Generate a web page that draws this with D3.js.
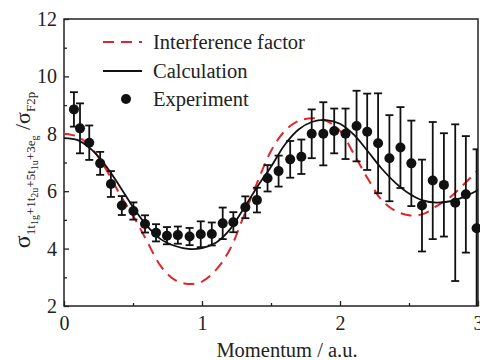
<!DOCTYPE html>
<html>
<head>
<meta charset="utf-8">
<script src="https://cdn.jsdelivr.net/npm/d3@7"></script>
<style>
  body { margin: 0; background: #fff; }
  svg text { font-family: "Liberation Serif", "DejaVu Serif", serif !important; fill: #222; }
</style>
</head>
<body>
<svg id="chart" width="480" height="360" font-family="Liberation Serif, serif"></svg>
<script>
// experiment points
var expX = [0.072, 0.116, 0.183, 0.262, 0.34, 0.419, 0.503, 0.587, 0.667, 0.746, 0.825, 0.91, 0.991,
            1.071, 1.15, 1.227, 1.314, 1.398, 1.475, 1.555, 1.639, 1.72, 1.795, 1.879, 1.958, 2.04,
            2.12, 2.197, 2.276, 2.358, 2.438, 2.517, 2.594, 2.672, 2.753, 2.835, 2.912, 2.99];
var expY = [8.85, 8.19, 7.69, 6.97, 6.25, 5.5, 5.31, 4.86, 4.55, 4.45, 4.47, 4.42, 4.5,
            4.51, 4.88, 4.92, 5.44, 5.69, 6.45, 6.7, 7.11, 7.2, 8.0, 8.0, 8.1, 8.0,
            8.27, 8.07, 7.67, 7.15, 7.52, 6.97, 5.5, 6.37, 6.22, 5.6, 5.89, 4.71];
var expErr = [0.6, 0.87, 0.6, 0.4, 0.45, 0.33, 0.3, 0.3, 0.3, 0.3, 0.3, 0.3, 0.45,
              0.4, 0.55, 0.35, 0.38, 0.43, 0.46, 0.54, 0.64, 0.6, 0.85, 1.1, 0.78, 0.88,
              1.23, 1.33, 1.74, 1.5, 1.41, 1.49, 1.6, 2.04, 1.8, 2.73, 2.03, 2.75];

// curves, read every 0.1 a.u.
var curveX = [0, 0.1, 0.2, 0.3, 0.4, 0.5, 0.6, 0.7, 0.8, 0.9, 1.0, 1.1, 1.2, 1.3, 1.4, 1.5,
              1.6, 1.7, 1.8, 1.9, 2.0, 2.1, 2.2, 2.3, 2.4, 2.5, 2.6, 2.7, 2.8, 2.9, 3.0];
var interfY = [8.0, 7.9, 7.5, 6.8, 5.93, 5.15, 4.27, 3.4, 2.92, 2.77, 2.85, 3.25, 3.95, 5.1, 6.3, 7.4,
               8.1, 8.45, 8.54, 8.45, 8.1, 7.3, 6.45, 5.7, 5.32, 5.16, 5.2, 5.48, 5.8, 6.25, 6.74];
var calcY = [7.85, 7.78, 7.45, 6.9, 6.2, 5.45, 4.8, 4.33, 4.1, 3.99, 4.02, 4.2, 4.65, 5.38, 6.15, 6.85,
             7.62, 8.15, 8.42, 8.48, 8.35, 7.97, 7.4, 6.8, 6.3, 5.92, 5.68, 5.6, 5.65, 5.8, 6.04];

var xTicks = [0, 1, 2, 3], xMinor = [0.5, 1.5, 2.5];
var yTicks = [2, 4, 6, 8, 10, 12], yMinor = [3, 5, 7, 9, 11];

var serif = "'Liberation Serif', 'DejaVu Serif', serif";
var svg = d3.select("#chart");
var L = 64, R = 478, T = 19, B = 306;

var x = d3.scaleLinear().domain([0, 3]).range([L, R]);
var y = d3.scaleLinear().domain([2, 12]).range([B, T]);

svg.append("clipPath").attr("id", "clip")
    .append("rect").attr("x", L).attr("y", T).attr("width", R - L).attr("height", B - T);

// axes, ticks inside
function styleAxis(g) {
    g.attr("font-family", null).attr("font-size", null);
    g.select(".domain").remove();
    g.selectAll(".tick line").attr("stroke", "#222").attr("stroke-width", 1.3);
    g.selectAll(".tick text").style("font-size", "20px").style("font-family", serif).attr("fill", "#222");
}
svg.append("g").attr("transform", "translate(0," + B + ")")
    .call(d3.axisBottom(x).tickValues(xTicks).tickSize(-5).tickPadding(10).tickFormat(d3.format("d")))
    .call(styleAxis);
svg.append("g").attr("transform", "translate(0," + B + ")")
    .call(d3.axisBottom(x).tickValues(xMinor).tickSize(-3).tickFormat(""))
    .call(styleAxis);
svg.append("g").attr("transform", "translate(" + L + ",0)")
    .call(d3.axisLeft(y).tickValues(yTicks).tickSize(-5).tickPadding(7).tickFormat(d3.format("d")))
    .call(styleAxis);
svg.append("g").attr("transform", "translate(" + L + ",0)")
    .call(d3.axisLeft(y).tickValues(yMinor).tickSize(-3).tickFormat(""))
    .call(styleAxis);

svg.append("rect").attr("x", L).attr("y", T).attr("width", R - L).attr("height", B - T)
    .attr("fill", "none").attr("stroke", "#222").attr("stroke-width", 1.5);

var line = d3.line().x(function (d) { return x(d[0]); }).y(function (d) { return y(d[1]); })
    .curve(d3.curveCatmullRom);

var plot = svg.append("g").attr("clip-path", "url(#clip)");

plot.append("path").attr("d", line(d3.zip(curveX, interfY)))
    .attr("fill", "none").attr("stroke", "#e0262b").attr("stroke-width", 2)
    .attr("stroke-dasharray", "11,7");
plot.append("path").attr("d", line(d3.zip(curveX, calcY)))
    .attr("fill", "none").attr("stroke", "#111").attr("stroke-width", 1.8);

// error bars
var pts = d3.range(expX.length).map(function (i) { return {x: expX[i], y: expY[i], e: expErr[i]}; });
var eb = plot.selectAll(".eb").data(pts).enter().append("g").attr("class", "eb")
    .attr("stroke", "#111").attr("stroke-width", 1.8);
eb.append("line").attr("x1", function (d) { return x(d.x); }).attr("x2", function (d) { return x(d.x); })
    .attr("y1", function (d) { return y(d.y - d.e); }).attr("y2", function (d) { return y(d.y + d.e); });
eb.append("line").attr("x1", function (d) { return x(d.x) - 4; }).attr("x2", function (d) { return x(d.x) + 4; })
    .attr("y1", function (d) { return y(d.y + d.e); }).attr("y2", function (d) { return y(d.y + d.e); });
eb.append("line").attr("x1", function (d) { return x(d.x) - 4; }).attr("x2", function (d) { return x(d.x) + 4; })
    .attr("y1", function (d) { return y(d.y - d.e); }).attr("y2", function (d) { return y(d.y - d.e); });

svg.selectAll(".dot").data(pts).enter().append("circle").attr("class", "dot")
    .attr("cx", function (d) { return x(d.x); }).attr("cy", function (d) { return y(d.y); })
    .attr("r", 5).attr("fill", "#111");

// legend
var lg = svg.append("g");
lg.append("line").attr("x1", 103).attr("x2", 142).attr("y1", 42).attr("y2", 42)
    .attr("stroke", "#e0262b").attr("stroke-width", 2).attr("stroke-dasharray", "11,7");
lg.append("line").attr("x1", 103).attr("x2", 142).attr("y1", 71).attr("y2", 71)
    .attr("stroke", "#111").attr("stroke-width", 1.8);
lg.append("circle").attr("cx", 126).attr("cy", 99).attr("r", 5).attr("fill", "#111");
var legendNames = ["Interference factor", "Calculation", "Experiment"];
lg.selectAll(".lt").data(legendNames).enter().append("text").attr("class", "lt")
    .attr("x", 153).attr("y", function (d, i) { return 42 + i * 28.5; }).attr("dy", "0.35em")
    .style("font-family", serif).style("font-size", "20.5px").text(function (d) { return d; });

// axis titles
svg.append("text").attr("x", 287).attr("y", 350).attr("dy", "0.33em").attr("text-anchor", "middle")
    .style("font-family", serif).style("font-size", "20.5px").text("Momentum / a.u.");

var yt = svg.append("text").attr("transform", "translate(30,170) rotate(-90)")
    .attr("text-anchor", "middle").style("font-family", serif);
yt.append("tspan").style("font-size", "24px").text("σ");
yt.append("tspan").attr("dy", 5).style("font-size", "13px").text("1t");
yt.append("tspan").attr("dy", 3).style("font-size", "10px").text("1g");
yt.append("tspan").attr("dy", -3).style("font-size", "13px").text("+1t");
yt.append("tspan").attr("dy", 3).style("font-size", "10px").text("2u");
yt.append("tspan").attr("dy", -3).style("font-size", "13px").text("+5t");
yt.append("tspan").attr("dy", 3).style("font-size", "10px").text("1u");
yt.append("tspan").attr("dy", -3).style("font-size", "13px").text("+3e");
yt.append("tspan").attr("dy", 3).style("font-size", "10px").text("g");
yt.append("tspan").attr("dy", -8).style("font-size", "22px").text(" /σ");
yt.append("tspan").attr("dy", 5).style("font-size", "13px").text("F2p");
</script>
</body>
</html>
